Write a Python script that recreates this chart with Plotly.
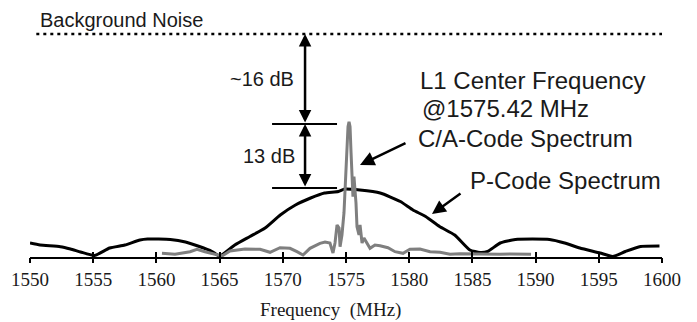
import plotly.graph_objects as go

# ---------------- data ----------------
FREQ_TICKS = [1550, 1555, 1560, 1565, 1570, 1575, 1580, 1585, 1590, 1595, 1600]

# P-code spectrum (relative dB above axis floor)
P_FREQ = [1550.0, 1550.8, 1552.4, 1553.2, 1554.0, 1555.1, 1556.3, 1557.5, 1558.7, 1559.3,
          1561.1, 1562.3, 1563.4, 1564.4, 1565.0, 1566.2, 1567.4, 1568.6, 1569.8, 1571.0,
          1572.2, 1573.3, 1574.4, 1574.9, 1576.1, 1577.7, 1579.3, 1580.3, 1581.3, 1582.4,
          1583.6, 1584.8, 1585.6, 1586.2, 1587.2, 1588.4, 1591.1, 1592.3, 1593.5, 1595.1,
          1596.1, 1597.1, 1598.3, 1599.8]
P_DB = [2.8, 2.4, 2.06, 1.6, 1.0, 0.3, 1.8, 2.4, 3.4, 3.6,
        3.5, 3.0, 2.1, 1.1, 0.2, 2.4, 4.1, 5.8, 8.4, 10.4,
        11.8, 12.8, 13.1, 13.6, 13.4, 12.8, 11.1, 9.4, 8.1, 6.1,
        4.4, 1.4, 0.9, 1.1, 2.8, 3.5, 3.5, 2.8, 1.8, 0.8,
        0.1, 1.1, 2.1, 2.2]

# C/A-code spectrum
CA_FREQ = [1560.44, 1561.47, 1562.66, 1563.21, 1563.84, 1564.64, 1565.19, 1565.82, 1567.01, 1568.2,
           1568.99, 1569.78, 1570.57, 1571.12, 1571.6, 1572.15, 1572.94, 1573.34, 1573.73, 1573.97,
           1574.13, 1574.29, 1574.45, 1574.53, 1574.68, 1574.84, 1574.92, 1575.0, 1575.08, 1575.16,
           1575.24, 1575.32, 1575.4, 1575.47, 1575.55, 1575.63, 1575.79, 1575.87, 1576.03, 1576.11,
           1576.27, 1576.42, 1576.66, 1576.9, 1577.29, 1577.69, 1578.32, 1578.88, 1579.51, 1580.06,
           1580.85, 1581.65, 1582.44, 1583.23, 1584.02, 1584.81, 1585.6, 1586.39, 1587.18, 1587.97,
           1588.77, 1589.64]
CA_DB = [0.74, 0.54, 1.06, 1.54, 1.06, 0.6, 0.2, 1.2, 1.6, 1.54,
         0.94, 1.86, 1.74, 1.06, 0.4, 1.74, 2.74, 3.0, 2.8, 0.8,
         2.8, 6.4, 5.8, 2.06, 4.4, 8.8, 13.4, 17.4, 22.8, 26.06,
         27.06, 26.06, 20.8, 16.06, 12.06, 16.06, 10.8, 6.06, 4.4, 6.4,
         2.8, 3.8, 2.8, 1.74, 2.4, 2.26, 1.86, 1.06, 0.74, 1.54,
         1.6, 1.06, 0.94, 0.54, 0.66, 0.6, 0.54, 0.6, 0.54, 0.6,
         0.6, 0.54]

NOISE_DB = 44.6          # background noise level
NOISE_SPAN = [1550.5, 1600.0]
CA_LEVEL_DB = 26.6       # C/A peak reference line
P_LEVEL_DB = 13.8        # P-code peak reference line
REF_SPAN = [1569.15, 1574.29]
ARROW_F = 1571.76

# ---------------- layout geometry ----------------
W, H = 697, 322
L, R, T, B = 30, 35, 20, 65
X_RANGE = [1550, 1600]
Y_RANGE = [0, 47.4]
PW, PH = W - L - R, H - T - B


def fx(px):
    return X_RANGE[0] + (px - L) / PW * (X_RANGE[1] - X_RANGE[0])


def fy(py):
    return Y_RANGE[0] + (H - B - py) / PH * (Y_RANGE[1] - Y_RANGE[0])


def paper_x(px):
    return (px - L) / PW


def paper_y(py):
    return (H - B - py) / PH


SANS = "Liberation Sans, Arial, sans-serif"
SERIF = "Liberation Serif, Times New Roman, serif"
TXT = "#1a1a1a"

fig = go.Figure()

fig.add_trace(go.Scatter(x=NOISE_SPAN, y=[NOISE_DB, NOISE_DB], mode="lines",
                         line=dict(color="black", width=2.5, dash="3px,4px"),
                         hoverinfo="skip", showlegend=False))
fig.add_trace(go.Scatter(x=P_FREQ, y=P_DB, mode="lines",
                         line=dict(color="black", width=3, shape="spline", smoothing=0.5),
                         showlegend=False))
fig.add_trace(go.Scatter(x=CA_FREQ, y=CA_DB, mode="lines",
                         line=dict(color="#7f7f7f", width=3),
                         showlegend=False))
# helper trace for overlaid axis (outside ticks)
fig.add_trace(go.Scatter(x=[X_RANGE[0]], y=[Y_RANGE[0]], xaxis="x2", mode="markers",
                         marker=dict(opacity=0), hoverinfo="skip", showlegend=False))

# reference lines
for lvl in (CA_LEVEL_DB, P_LEVEL_DB):
    fig.add_shape(type="line", xref="x", yref="y", x0=REF_SPAN[0], x1=REF_SPAN[1],
                  y0=lvl, y1=lvl, line=dict(color="black", width=2))

ann = []
# double arrows
ann.append(dict(x=ARROW_F, y=NOISE_DB, ax=ARROW_F, ay=CA_LEVEL_DB, xref="x", yref="y",
                axref="x", ayref="y", text="", showarrow=True, arrowhead=2, arrowsize=1,
                arrowwidth=2.5, arrowside="end+start", startarrowhead=2, startarrowsize=1,
                arrowcolor="black", standoff=0, startstandoff=0))
ann.append(dict(x=ARROW_F, y=CA_LEVEL_DB, ax=ARROW_F, ay=P_LEVEL_DB, xref="x", yref="y",
                axref="x", ayref="y", text="", showarrow=True, arrowhead=2, arrowsize=1,
                arrowwidth=2.5, arrowside="end+start", startarrowhead=2, startarrowsize=1,
                arrowcolor="black", standoff=0, startstandoff=0))
# pointer arrows
ann.append(dict(x=fx(360), y=fy(165), ax=fx(407), ay=fy(142.5), xref="x", yref="y",
                axref="x", ayref="y", text="", showarrow=True, arrowhead=2, arrowsize=1.15,
                arrowwidth=2.5, arrowcolor="black", standoff=0))
ann.append(dict(x=fx(432), y=fy(214), ax=fx(462), ay=fy(192.5), xref="x", yref="y",
                axref="x", ayref="y", text="", showarrow=True, arrowhead=2, arrowsize=1.1,
                arrowwidth=2.5, arrowcolor="black", standoff=0))


def label(text, left_px, baseline_px, size, font=SANS, anchor="left"):
    return dict(x=paper_x(left_px), y=paper_y(baseline_px - 0.35 * size),
                xref="paper", yref="paper",
                text=text, showarrow=False, xanchor=anchor, yanchor="middle",
                borderpad=0, font=dict(family=font, size=size, color=TXT))


ann.append(label("Background Noise", 39, 27, 20))
ann.append(label("~16 dB", 229, 86, 20))
ann.append(label("13 dB", 242, 163, 20))
ann.append(label("L1 Center Frequency", 419, 89, 24))
ann.append(label("@1575.42 MHz", 421, 117, 24))
ann.append(label("C/A-Code Spectrum", 417, 147, 24))
ann.append(label("P-Code Spectrum", 469, 189, 24))
ann.append(label("Frequency  (MHz)", 330, 316.5, 19, font=SERIF, anchor="center"))

fig.update_layout(
    width=W, height=H, margin=dict(l=L, r=R, t=T, b=B),
    paper_bgcolor="white", plot_bgcolor="white",
    annotations=ann,
    xaxis=dict(range=X_RANGE, tickvals=FREQ_TICKS, ticks="inside", ticklen=5, tickwidth=2,
               tickcolor="black", showline=True, linewidth=2, linecolor="black",
               showgrid=False, zeroline=False, ticklabelstandoff=4,
               tickfont=dict(family=SERIF, size=19, color=TXT)),
    xaxis2=dict(range=X_RANGE, overlaying="x", anchor="y", side="bottom",
                tickvals=FREQ_TICKS, ticks="outside", ticklen=5, tickwidth=2,
                tickcolor="black", showticklabels=False, showline=False,
                showgrid=False, zeroline=False),
    yaxis=dict(range=Y_RANGE, visible=False, showgrid=False, zeroline=False),
)

fig.write_html("out.html")
